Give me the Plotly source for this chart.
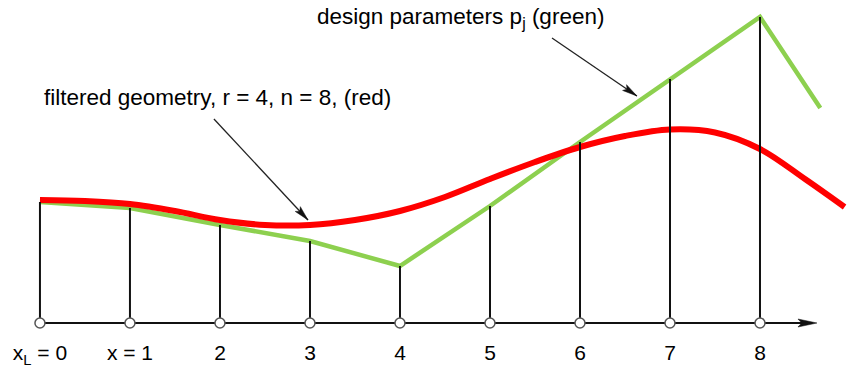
import math
import plotly.graph_objects as go

# Node positions along the x axis and their labels
nodes = [0, 1, 2, 3, 4, 5, 6, 7, 8]
node_labels = ["x<sub>L</sub> = 0", "x = 1", "2", "3", "4", "5", "6", "7", "8"]

# Design parameters p_j (green polyline), last point is the open end past node 8
design_x = [0, 1, 2, 3, 4, 5, 6, 7, 8, 8.67]
design_p = [12.1, 11.5, 9.8, 8.2, 5.7, 11.7, 18.1, 24.4, 30.6, 21.5]

# Filtered geometry, r = 4, n = 8 (red smooth curve)
filtered_x = [0, 0.5, 1, 1.5, 2, 2.5, 3, 3.5, 4, 4.5, 5, 5.5, 6, 6.5, 7, 7.5, 8, 8.5, 8.94]
filtered_y = [12.3, 12.2, 11.9, 11.2, 10.3, 9.8, 9.8, 10.3, 11.2, 12.6, 14.4, 16.1, 17.6, 18.7, 19.35, 19.05, 17.4, 14.4, 11.6]

W, H = 849, 372
X_RANGE = [-0.444, 8.989]
Y_RANGE = [-4.9, 32.3]
PX_X = W / (X_RANGE[1] - X_RANGE[0])
PX_Y = H / (Y_RANGE[1] - Y_RANGE[0])

FONT = "Liberation Sans, Arial, sans-serif"
INK = "#111111"

fig = go.Figure()

# green design-parameter polyline
fig.add_trace(go.Scatter(
    x=design_x, y=design_p, mode="lines",
    line=dict(color="#8dd04f", width=4.5), hoverinfo="skip"))

# red filtered geometry
fig.add_trace(go.Scatter(
    x=filtered_x, y=filtered_y, mode="lines",
    line=dict(color="#ff0000", width=6, shape="spline", smoothing=1.0),
    hoverinfo="skip"))

# vertical stems from the axis to each design parameter
stem_x, stem_y = [], []
for xi, pi in zip(nodes, design_p[:len(nodes)]):
    stem_x += [xi, xi, None]
    stem_y += [0, pi, None]
fig.add_trace(go.Scatter(
    x=stem_x, y=stem_y, mode="lines",
    line=dict(color=INK, width=2), hoverinfo="skip"))

# horizontal axis line
axis_end = 8.633
fig.add_trace(go.Scatter(
    x=[-0.04, axis_end - 0.1], y=[0, 0], mode="lines",
    line=dict(color=INK, width=2), hoverinfo="skip"))

# node circles
fig.add_trace(go.Scatter(
    x=nodes, y=[0] * len(nodes), mode="markers",
    marker=dict(size=10, color="white", line=dict(color="#555555", width=1.5)),
    hoverinfo="skip"))

# node labels
fig.add_trace(go.Scatter(
    x=nodes, y=[-3.2] * len(nodes), mode="text", text=node_labels,
    textposition="middle center",
    textfont=dict(family=FONT, size=21, color="#000000"), hoverinfo="skip"))


def arrow_head(x, y, dx_px, dy_px, length, width, color):
    """Filled arrowhead at (x, y) pointing along the pixel direction (dx, dy), y up."""
    n = math.hypot(dx_px, dy_px)
    ux, uy = dx_px / n, dy_px / n
    vx, vy = -uy, ux
    pts = [(0, 0),
           (-length * ux + width / 2 * vx, -length * uy + width / 2 * vy),
           (-0.8 * length * ux, -0.8 * length * uy),
           (-length * ux - width / 2 * vx, -length * uy - width / 2 * vy)]
    path = "M" + "L".join(f"{px:.2f},{py:.2f}" for px, py in pts) + "Z"
    fig.add_shape(type="path", xref="x", yref="y",
                  xsizemode="pixel", ysizemode="pixel",
                  xanchor=x, yanchor=y, path=path,
                  fillcolor=color, line=dict(color=color, width=0.5))


def pointer(x0, y0, x1, y1):
    fig.add_shape(type="line", xref="x", yref="y", x0=x0, y0=y0, x1=x1, y1=y1,
                  line=dict(color="#222222", width=1.3))
    arrow_head(x1, y1, (x1 - x0) * PX_X, (y1 - y0) * PX_Y, 15, 7, "#111111")


# axis arrowhead
arrow_head(axis_end, 0, 1, 0, 19, 8, INK)

# callout arrows
pointer(1.933, 20.4, 2.978, 10.3)
pointer(5.689, 28.5, 6.633, 22.7)

fig.add_annotation(x=0.02, y=22.6, xref="x", yref="y", showarrow=False,
                   xanchor="left", yanchor="middle",
                   text="filtered geometry, r = 4, n = 8, (red)",
                   font=dict(family=FONT, size=22.5, color="#000000"))
fig.add_annotation(x=3.06, y=30.5, xref="x", yref="y", showarrow=False,
                   xanchor="left", yanchor="middle",
                   text="design parameters p<sub>j</sub> (green)",
                   font=dict(family=FONT, size=22.5, color="#000000"))

fig.update_layout(
    width=W, height=H, margin=dict(l=0, r=0, t=0, b=0),
    paper_bgcolor="white", plot_bgcolor="white", showlegend=False,
    xaxis=dict(range=X_RANGE, visible=False, fixedrange=True),
    yaxis=dict(range=Y_RANGE, visible=False, fixedrange=True),
)

fig.write_html("out.html")
